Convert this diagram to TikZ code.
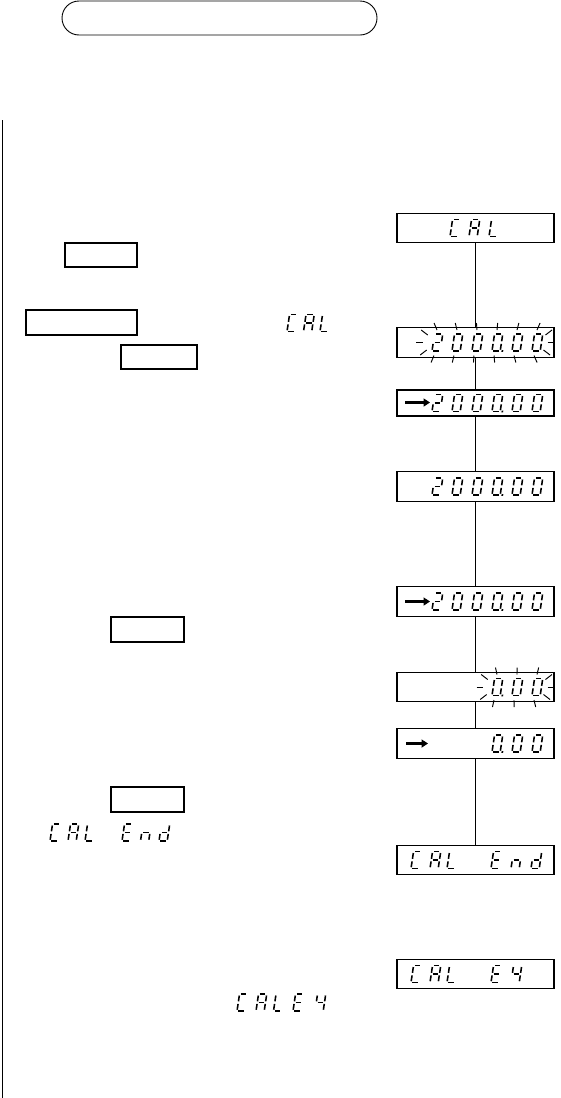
\documentclass[tikz,border=0pt]{standalone}
\usetikzlibrary{arrows.meta}
\newcommand\lcdsega{\draw[segst] (1.3,16.8) -- (6.9,16.8);}
\newcommand\lcdsegb{\draw[segst] (8.2,15.5) -- (8.2,9.7);}
\newcommand\lcdsegc{\draw[segst] (8.2,7.1) -- (8.2,1.3);}
\newcommand\lcdsegd{\draw[segst] (1.3,0) -- (6.9,0);}
\newcommand\lcdsege{\draw[segst] (0,7.1) -- (0,1.3);}
\newcommand\lcdsegf{\draw[segst] (0,15.5) -- (0,9.7);}
\newcommand\lcdsegg{\draw[segst] (1.3,8.4) -- (6.9,8.4);}
\newcommand\lcdsegp{\fill (9.5,-0.8) rectangle (11.2,0.9);}
\begin{document}
\begin{tikzpicture}[x=1pt,y=-1pt,
  lcd/.style={draw, line width=1.3pt, minimum width=157pt, minimum height=29.5pt, inner sep=0pt},
  keybox/.style={draw, line width=1.1pt, inner sep=0pt},
  link/.style={line width=1.2pt},
  segst/.style={line width=1.55pt, line cap=butt},
  flash/.style={line width=0.95pt},
  lcdarrow/.style={line width=2.4pt, -{Triangle[length=6.5pt,width=8pt]}},
  pics/sev/.style={code={\edef\lcdlist{#1}\begin{scope}[x=1pt,y=1pt,xslant=0.15]
      \foreach \s in \lcdlist {\csname lcdseg\s\endcsname}\end{scope}}}
]
\useasboundingbox (0,0) rectangle (561,1098);

% title pill
\node[draw, line width=0.9pt, rounded corners=17pt, minimum width=315pt, minimum height=34pt] (title) at (219.5,18) {};

% left margin rule
\draw[line width=1.6pt] (2.5,120) -- (2.5,1098);

% key boxes (left column)
\node[keybox, minimum width=72pt, minimum height=24pt] (kA) at (101,255) {};
\node[keybox, minimum width=111pt, minimum height=25pt] (kB) at (81.5,322.5) {};
\node[keybox, minimum width=76pt, minimum height=24pt] (kC) at (159,357) {};
\node[keybox, minimum width=73pt, minimum height=25pt] (kD) at (147.5,629.5) {};
\node[keybox, minimum width=73pt, minimum height=25pt] (kE) at (147.5,799.5) {};

% display boxes (right column)
\node[lcd] (d1) at (475.5,228) {};
\node[lcd] (d2) at (475.5,342.5) {};
\node[lcd, minimum height=26pt] (d3) at (475.5,403) {};
\node[lcd] (d4) at (475.5,486.5) {};
\node[lcd] (d5) at (475.5,601.5) {};
\node[lcd] (d6) at (475.5,687) {};
\node[lcd] (d7) at (475.5,743.5) {};
\node[lcd] (d8) at (475.5,860) {};
\node[lcd] (d9) at (475.5,974) {};

% connectors
\draw[link] (d1) -- (d2);
\draw[link] (d2) -- (d3);
\draw[link] (d3) -- (d4);
\draw[link] (d4) -- (d5);
\draw[link] (d5) -- (d6);
\draw[link] (d6) -- (d7);
\draw[link] (d7) -- (d8);

% d1: CAL
\pic at (450,236.5) {sev={a,d,e,f}};
\pic at (469,236.5) {sev={a,b,c,e,f,g}};
\pic at (489,236.5) {sev={d,e,f}};

% d2: flashing 2000.00
\foreach \x/\g in {432/{a,b,g,e,d},452/{a,b,c,d,e,f},472/{a,b,c,d,e,f},492/{a,b,c,d,e,f,p},512/{a,b,c,d,e,f},532/{a,b,c,d,e,f}}
  \pic at (\x,351) {sev=\g};
\foreach \c in {437,457,477,497,517,537}{
  \draw[flash] ({\c+(\c-486)*0.06},323) -- (\c,330);
  \draw[flash] (\c-3,355.5) -- ({\c-3+(\c-486)*0.06},362.5);
}
\draw[flash] (416.2,342.5) -- (423.2,342.5);
\draw[flash] (547.5,342.5) -- (555,342.5);
\draw[flash] (421.2,330) -- (427.7,335);
\draw[flash] (420.2,355) -- (426.7,350);
\draw[flash] (545.5,335) -- (552,330);
\draw[flash] (543.5,350) -- (550,355);

% d3: ->2000.00
\draw[lcdarrow] (405,402.5) -- (430,402.5);
\foreach \x/\g in {432/{a,b,g,e,d},452/{a,b,c,d,e,f},472/{a,b,c,d,e,f},492/{a,b,c,d,e,f,p},512/{a,b,c,d,e,f},532/{a,b,c,d,e,f}}
  \pic at (\x,411.5) {sev=\g};

% d4: 2000.00
\foreach \x/\g in {432/{a,b,g,e,d},452/{a,b,c,d,e,f},472/{a,b,c,d,e,f},492/{a,b,c,d,e,f,p},512/{a,b,c,d,e,f},532/{a,b,c,d,e,f}}
  \pic at (\x,495) {sev=\g};

% d5: ->2000.00
\draw[lcdarrow] (405,601.5) -- (430,601.5);
\foreach \x/\g in {432/{a,b,g,e,d},452/{a,b,c,d,e,f},472/{a,b,c,d,e,f},492/{a,b,c,d,e,f,p},512/{a,b,c,d,e,f},532/{a,b,c,d,e,f}}
  \pic at (\x,610) {sev=\g};

% d6: flashing 0.00
\foreach \x/\g in {492/{a,b,c,d,e,f,p},512/{a,b,c,d,e,f},532/{a,b,c,d,e,f}}
  \pic at (\x,695.5) {sev=\g};
\foreach \c in {497,517,537}{
  \draw[flash] ({\c+(\c-516)*0.08},667.5) -- (\c,674.5);
  \draw[flash] (\c-3,700) -- ({\c-3+(\c-516)*0.08},707);
}
\draw[flash] (476.7,687) -- (483.2,687);
\draw[flash] (547.5,687) -- (555,687);
\draw[flash] (481.2,674.5) -- (487.7,679.5);
\draw[flash] (480.2,699.5) -- (486.7,694.5);
\draw[flash] (545.5,679.5) -- (552,674.5);
\draw[flash] (543.5,694.5) -- (550,699.5);

% d7: ->   0.00
\draw[lcdarrow] (406,743.5) -- (428,743.5);
\foreach \x/\g in {492/{a,b,c,d,e,f,p},512/{a,b,c,d,e,f},532/{a,b,c,d,e,f}}
  \pic at (\x,752) {sev=\g};

% d8: CAL End
\pic at (411,868.5) {sev={a,d,e,f}};
\pic at (430,868.5) {sev={a,b,c,e,f,g}};
\pic at (447,868.5) {sev={d,e,f}};
\pic at (491,868.5) {sev={a,d,e,f,g}};
\pic at (511,868.5) {sev={c,e,g}};
\pic at (531,868.5) {sev={b,c,d,e,g}};

% d9: CAL E4
\pic at (411,982.5) {sev={a,d,e,f}};
\pic at (430,982.5) {sev={a,b,c,e,f,g}};
\pic at (447,982.5) {sev={d,e,f}};
\pic at (491,982.5) {sev={a,d,e,f,g}};
\pic at (511,982.5) {sev={b,c,f,g}};

% left-column display words
\pic at (287,331.5) {sev={a,d,e,f}};
\pic at (303.5,331.5) {sev={a,b,c,e,f,g}};
\pic at (320,331.5) {sev={d,e,f}};

\pic at (50,841) {sev={a,d,e,f}};
\pic at (68,841) {sev={a,b,c,e,f,g}};
\pic at (85,841) {sev={d,e,f}};
\pic at (122,841) {sev={a,d,e,f,g}};
\pic at (140.5,841) {sev={c,e,g}};
\pic at (159,841) {sev={b,c,d,e,g}};

\pic at (237,1011) {sev={a,d,e,f}};
\pic at (256,1011) {sev={a,b,c,e,f,g}};
\pic at (273.5,1011) {sev={d,e,f}};
\pic at (293,1011) {sev={a,d,e,f,g}};
\pic at (315,1011) {sev={b,c,f,g}};
\end{tikzpicture}
\end{document}
